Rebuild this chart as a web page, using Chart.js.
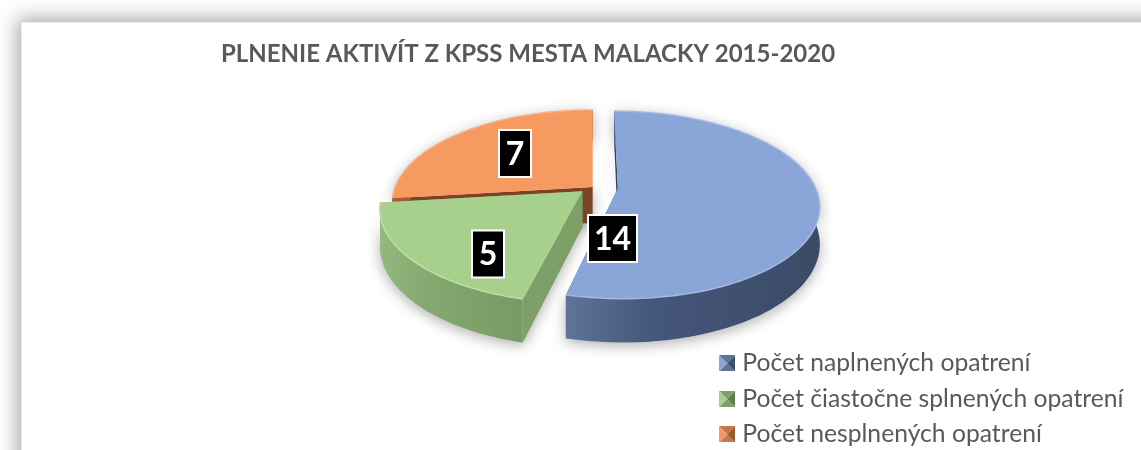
<!DOCTYPE html>
<html><head><meta charset="utf-8">
<style>
html,body{margin:0;padding:0;background:#fff;width:1141px;height:450px;overflow:hidden}
#card{position:absolute;left:21px;top:22px;width:1300px;height:700px;background:#fff;box-shadow:0 0 18px 4px rgba(0,0,0,.34);border-left:1px solid #eee;border-top:1px solid #eee}
canvas{position:absolute;left:0;top:0}
</style>
<script src="https://cdn.jsdelivr.net/npm/chart.js@4"></script>
</head><body>
<div id="card"></div>
<canvas id="c" width="1141" height="450"></canvas>
<script>
const titleText = "PLNENIE AKTIVÍT Z KPSS MESTA MALACKY 2015-2020";
const categories = ["Počet naplnených opatrení","Počet čiastočne splnených opatrení","Počet nesplnených opatrení"];
const values = [14,5,7];
const explode = [0.128,0.069,0];
const topColors = ["#8aa6d8","#a8d08d","#f79a62"];
const rimColors = ["rgba(170,192,232,.8)","#bcdfa6","#f9ae7e"];
const sideStops = [["#5f7499","#44567a","#3b4a66"],["#93b97f","#84a870","#779a66"],["#a85f35","#8f4f2b","#7a4226"]];
const cutColors = ["#34445e","#7f9f68","#7a4226"];
const iconLight = ["#8aa6d8","#a8d08d","#f79a62"];
const iconDark = ["#3e4e6c","#5e8048","#9a5a30"];
const iconMid = ["#5f7499","#7da06a","#c47a48"];
const labelCenters = [[612.5,238.5],[488,254],[515,153.5]];
const labelSizes = [[49,47],[32,47],[32,47]];

const view = {cx:592.7, cy:187, rx:197.5, ry:90.5, k:0.175, depth:36, R:170};
const pt = (u,v) => { const w = 1 - view.k*v; return {x:view.cx+view.rx*u/w, y:view.cy+view.ry*v/w, d:view.depth/w}; };

function sliceGeom(el,i){
  const mid=(el.startAngle+el.endAngle)/2, off=(el.options.offset||0)/view.R;
  const du=off*Math.cos(mid), dv=off*Math.sin(mid), n=96, arc=[];
  for(let j=0;j<=n;j++){const a=el.startAngle+(el.endAngle-el.startAngle)*j/n; arc.push(pt(du+Math.cos(a),dv+Math.sin(a)));}
  return {apex:pt(du,dv),arc};
}
function poly(ctx,pts){ctx.beginPath();pts.forEach((p,i)=>i?ctx.lineTo(p.x,p.y):ctx.moveTo(p.x,p.y));ctx.closePath();}
const down = p => ({x:p.x,y:p.y+p.d});

const pie3d = {
  id:'pie3d',
  afterLayout(chart){
    const l=chart.legend; const pad=l.options.labels.padding;
    l.left=724-pad; l.right=1141; l.top=351-pad; l.bottom=700;
  },
  beforeDatasetDraw(chart,args){
    const ctx=chart.ctx, meta=args.meta, order=[2,1,0];
    const geoms=meta.data.map((el,i)=>sliceGeom(el,i));
    ctx.save();
    order.forEach(i=>{
      const g=geoms[i];
      ctx.save();ctx.shadowColor='rgba(0,0,0,.32)';ctx.shadowBlur=14;ctx.shadowOffsetY=3;ctx.fillStyle='#fff';
      poly(ctx,[g.apex,...g.arc,...g.arc.slice().reverse().map(down),down(g.apex)]);ctx.fill();ctx.restore();
    });
    order.forEach(i=>{
      const g=geoms[i], a=g.arc, first=a[0], last=a[a.length-1];
      ctx.fillStyle=cutColors[i];
      poly(ctx,[g.apex,first,down(first),down(g.apex)]);ctx.fill();
      poly(ctx,[g.apex,last,down(last),down(g.apex)]);ctx.fill();
      const xs=a.map(p=>p.x), x0=Math.min(...xs), x1=Math.max(...xs);
      const grad=ctx.createLinearGradient(x0,0,x1,0);
      const s=sideStops[i]; grad.addColorStop(0,s[0]);grad.addColorStop(.35,s[1]);grad.addColorStop(1,s[2]);
      ctx.fillStyle=grad;
      poly(ctx,[...a,...a.slice().reverse().map(down)]);ctx.fill();
      ctx.fillStyle=topColors[i];
      poly(ctx,[g.apex,...a]);ctx.fill();
      ctx.strokeStyle=rimColors[i];ctx.lineWidth=1.5;
      ctx.beginPath();a.forEach((p,j)=>j?ctx.lineTo(p.x,p.y):ctx.moveTo(p.x,p.y));ctx.stroke();
    });
    ctx.restore();
    return false;
  },
  afterDatasetsDraw(chart){
    const ctx=chart.ctx;
    ctx.save();
    values.forEach((v,i)=>{
      const [x,y]=labelCenters[i],[w,h]=labelSizes[i];
      ctx.fillStyle='#000';ctx.fillRect(x-w/2,y-h/2,w,h);
      ctx.strokeStyle='#fff';ctx.lineWidth=2;ctx.strokeRect(x-w/2,y-h/2,w,h);
      ctx.fillStyle='#fff';ctx.font='bold 32px Lato';ctx.textAlign='center';ctx.textBaseline='middle';
      ctx.fillText(String(v),x,y+1);
    });
    ctx.restore();
  }
};

function icon(i){
  const c=document.createElement('canvas');c.width=16;c.height=16;const x=c.getContext('2d');
  const tri=(col,a,b)=>{x.fillStyle=col;x.beginPath();x.moveTo(a[0],a[1]);x.lineTo(b[0],b[1]);x.lineTo(8,8);x.closePath();x.fill();};
  tri(iconMid[i],[0,0],[16,0]);tri(iconMid[i],[0,16],[16,16]);tri(iconLight[i],[0,0],[0,16]);tri(iconDark[i],[16,0],[16,16]);
  return c;
}
const icons=values.map((_,i)=>icon(i));

new Chart(document.getElementById('c'),{
  type:'pie',
  data:{labels:categories,datasets:[{data:values,backgroundColor:topColors,borderWidth:0,offset:explode.map(f=>f*view.R)}]},
  options:{
    responsive:false,animation:false,
    layout:{padding:{right:85}},
    plugins:{
      title:{display:true,text:titleText,color:'#595959',font:{family:'Lato',size:24,weight:'bold'},padding:{top:40,bottom:20}},
      legend:{position:'right',align:'start',labels:{
        color:'#595959',font:{family:'Lato',size:24.7},padding:10.8,boxWidth:16,boxHeight:16,usePointStyle:true,pointStyleWidth:6,
        generateLabels(chart){return Chart.overrides.doughnut.plugins.legend.labels.generateLabels(chart).map((l,i)=>({...l,pointStyle:icons[i]}));}
      }},
      tooltip:{enabled:false}
    }
  },
  plugins:[pie3d]
});
</script>
</body></html>
